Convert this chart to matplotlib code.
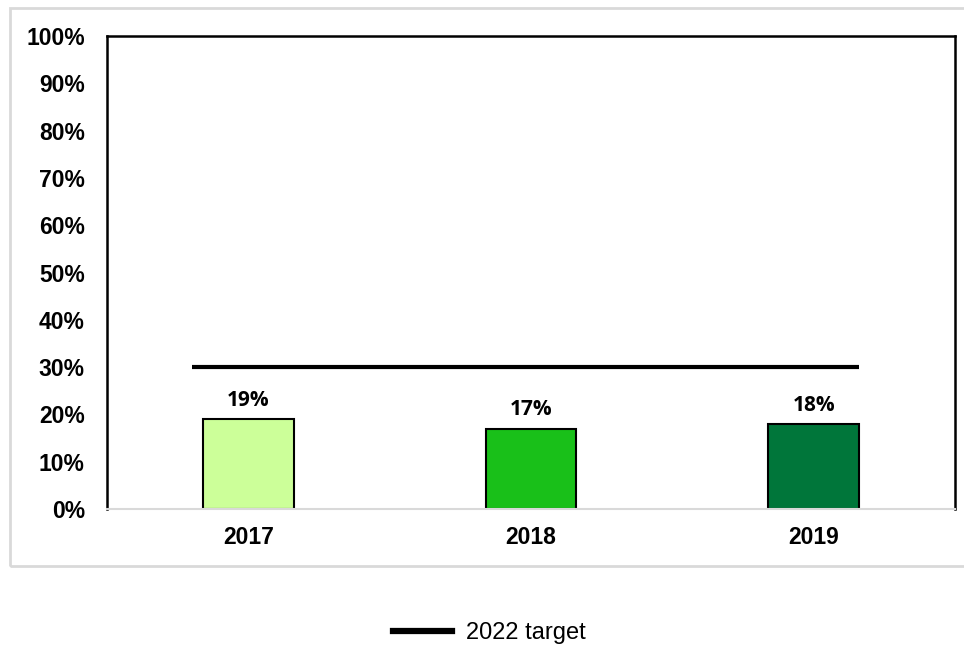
import matplotlib.pyplot as plt
from matplotlib.lines import Line2D
from matplotlib.patches import Rectangle
from matplotlib.ticker import PercentFormatter

years   = ["2017", "2018", "2019"]
values  = [19, 17, 18]
colors  = ["#CCFF99", "#19C019", "#00763A"]
target  = 30
target_label = "2022 target"
target_span  = (-0.2, 2.16)

plt.rcParams["font.family"] = ["Liberation Sans", "DejaVu Sans"]

fig = plt.figure(figsize=(9.64, 6.49), dpi=100)
W, H = 964, 649
ax = fig.add_axes([107 / W, 1 - 509 / H, 848 / W, 473 / H])

# light gray outer chart frame
fig.patches.append(Rectangle((10 / W, 1 - 566 / H), 960 / W, 558 / H,
                             transform=fig.transFigure, fill=False,
                             edgecolor="#D9D9D9", lw=2))

x = range(len(years))
bars = ax.bar(x, values, width=0.32, color=colors, edgecolor="black", lw=1.5, zorder=2)
for b, v in zip(bars, values):
    ax.annotate(f"{v}%", (b.get_x() + b.get_width() / 2, v), xytext=(0, 6),
                textcoords="offset points", ha="center", va="bottom",
                fontsize=15, fontweight="bold", family=["Open Sans", "DejaVu Sans"])

ax.hlines(target, *target_span, color="black", lw=3, zorder=3)

ax.set_xlim(-0.5, 2.5)
ax.set_ylim(0, 100)
ax.set_yticks(range(0, 101, 10))
ax.yaxis.set_major_formatter(PercentFormatter(decimals=0))
ax.set_xticks(list(x))
ax.set_xticklabels(years)
ax.tick_params(axis="x", length=0, labelsize=16.5, pad=12)
ax.tick_params(axis="y", length=0, labelsize=16.5, pad=16)
for lab in ax.get_xticklabels() + ax.get_yticklabels():
    lab.set_fontweight("bold")

for side in ["left", "top", "right"]:
    ax.spines[side].set_color("black")
    ax.spines[side].set_linewidth(1.8)
ax.spines["bottom"].set_color("#D9D9D9")
ax.spines["bottom"].set_linewidth(1.5)

handle = Line2D([], [], color="black", lw=4.5)
fig.legend([handle], [target_label], loc="center", bbox_to_anchor=(0.508, 0.025),
           frameon=False, fontsize=17, handlelength=2.5, handletextpad=0.6)

fig.savefig("out.png", dpi=100)
